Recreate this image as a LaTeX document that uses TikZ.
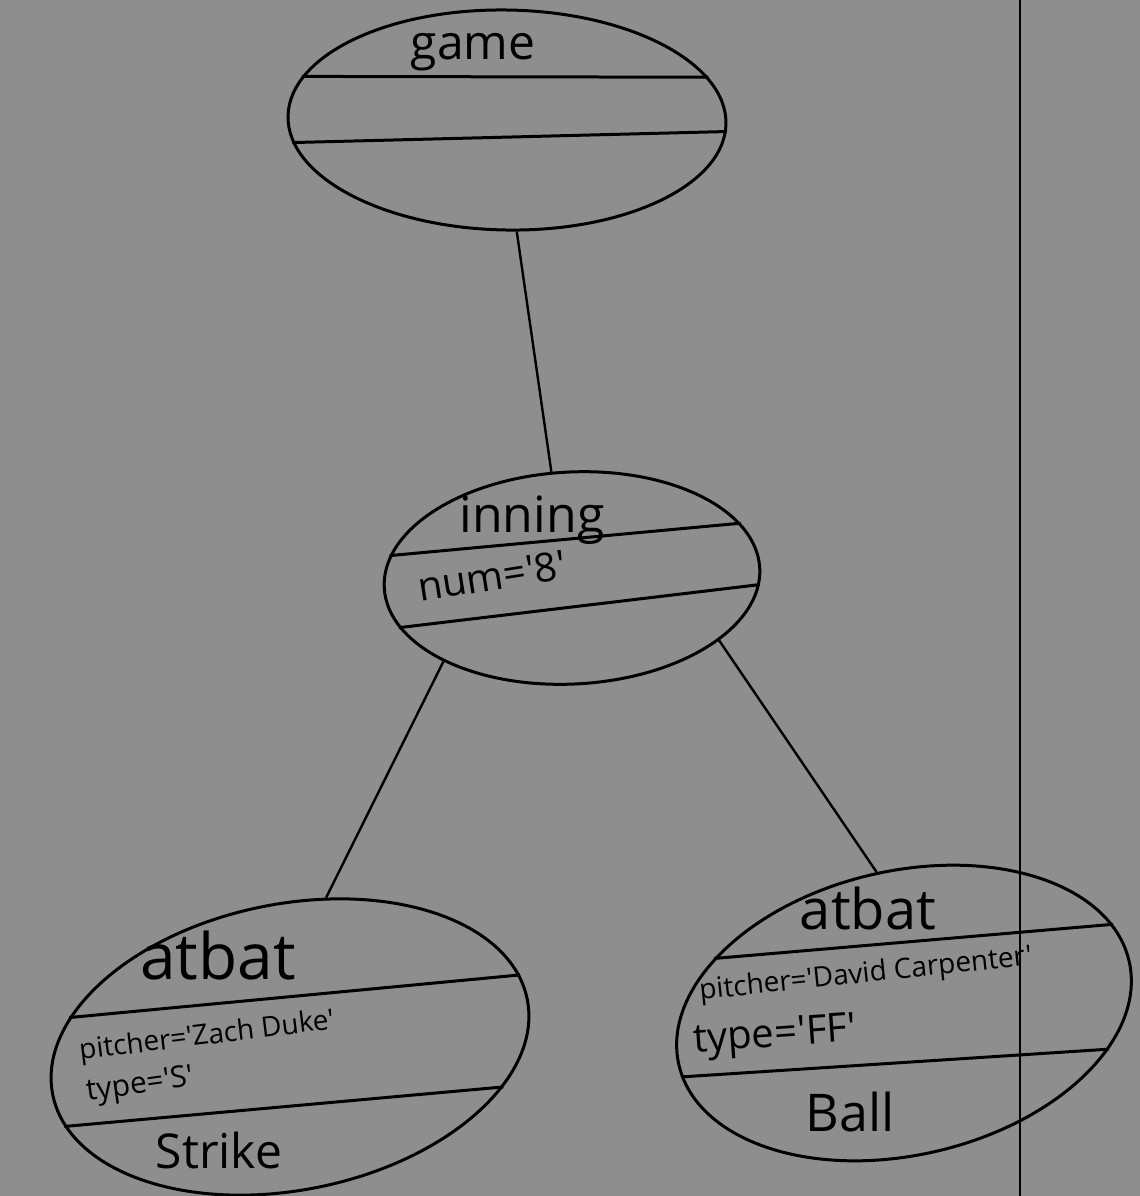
\documentclass[tikz,border=0pt]{standalone}
\usepackage{fontspec}
\setmainfont{Open Sans}[Ligatures=TeXOff]
\usetikzlibrary{shapes.geometric}
\definecolor{bg}{RGB}{142,142,142}
\begin{document}
\begin{tikzpicture}[x=0.5pt,y=-0.5pt,
  oval/.style={draw=black, line width=1.5pt, ellipse, inner sep=0pt},
  chord/.style={draw=black, line width=1.5pt},
  link/.style={draw=black, line width=1.2pt},
  lbl/.style={inner sep=0pt, text=black},
  fs/.style={font=\fontsize{#1}{#1}\selectfont}]
\fill[bg] (0,0) rectangle (1140,1196);
\useasboundingbox (0,0) rectangle (1140,1196);
% divider
\coordinate (vt) at (1020,0);
\coordinate (vb) at (1020,1196);
\draw[black, line width=0.9pt] (vt) -- (vb);
% ovals
\node[oval, minimum width=219pt, minimum height=110pt, rotate=-1] (game) at (507,120) {};
\node[oval, minimum width=188pt, minimum height=106pt, rotate=3] (inning) at (572,578) {};
\node[oval, minimum width=242pt, minimum height=143pt, rotate=11.4] (la) at (290,1047) {};
\node[oval, minimum width=231pt, minimum height=142pt, rotate=13] (ra) at (904,1013) {};
% chords
\draw[chord] (game.169) -- (game.13);
\draw[chord] (game.187) -- (game.-2);
\draw[chord] (inning.170.6) -- (inning.15.4);
\draw[chord] (inning.193.8) -- (inning.-5.4);
\draw[chord] (la.161) -- (la.6.3);
\draw[chord] (la.188.8) -- (la.-22.4);
\draw[chord] (ra.151.7) -- (ra.10.1);
\draw[chord] (ra.183.7) -- (ra.-23.9);
% links
\draw[link] (game.-84) -- (inning.98.5);
\draw[link] (inning.210.6) -- (la.65.3);
\draw[link] (inning.-26.4) -- (ra.88.6);
% labels
\node[lbl, fs=24] (tgame) at (473,52) {game};
\node[lbl, fs=25] (tinning) at (532,520) {inning};
\node[lbl, fs=20, rotate=9] (tnum) at (492,576) {num='8'};
\node[lbl, fs=32] (tla) at (218,955) {atbat};
\node[lbl, fs=14, rotate=7] (tlp) at (207,1037) {pitcher='Zach Duke'};
\node[lbl, fs=15, rotate=8] (tlt) at (140,1086) {type='S'};
\node[lbl, fs=24] (tls) at (219,1150) {Strike};
\node[lbl, fs=28] (tra) at (868,908) {atbat};
\node[lbl, fs=14, rotate=6] (trp) at (866,975) {pitcher='David Carpenter'};
\node[lbl, fs=20, rotate=4] (trt) at (775,1037) {type='FF'};
\node[lbl, fs=26] (trb) at (850,1112) {Ball};
\end{tikzpicture}
\end{document}
